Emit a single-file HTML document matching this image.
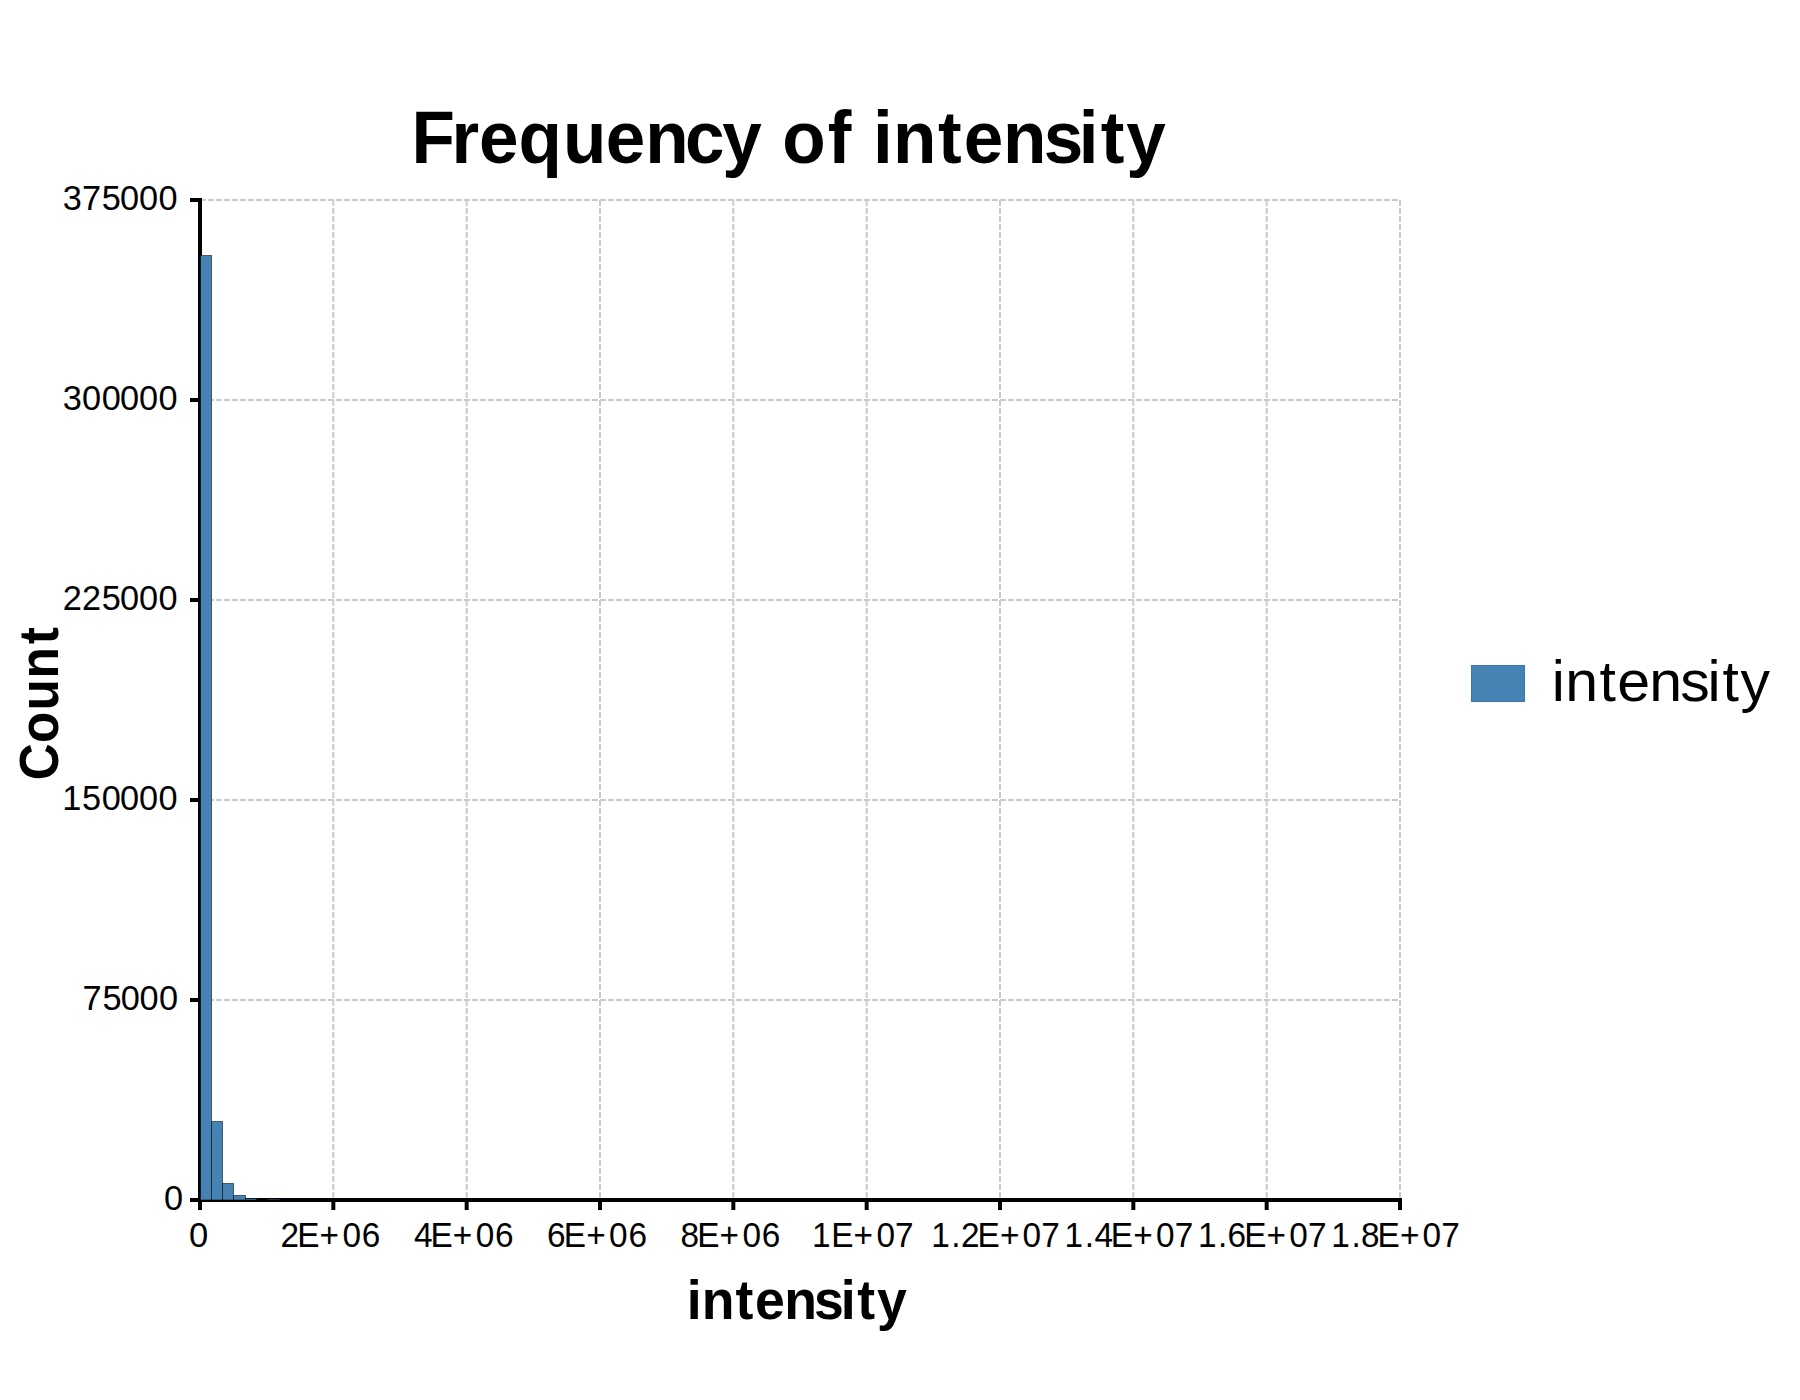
<!DOCTYPE html>
<html><head><meta charset="utf-8"><title>Frequency of intensity</title><style>html,body{margin:0;padding:0;background:#fff;overflow:hidden;}svg{display:block;}text{font-family:"Liberation Sans",Arial,sans-serif;fill:#000;}</style></head><body>
<svg width="1800" height="1400" viewBox="0 0 1800 1400">
<rect width="1800" height="1400" fill="#fff"/>
<g stroke="#cbcbcb" stroke-width="2" stroke-dasharray="6 2" fill="none"><line x1="200" y1="200" x2="1400" y2="200"/><line x1="200" y1="400" x2="1400" y2="400"/><line x1="200" y1="600" x2="1400" y2="600"/><line x1="200" y1="800" x2="1400" y2="800"/><line x1="200" y1="1000" x2="1400" y2="1000"/><line x1="333.33" y1="200" x2="333.33" y2="1200"/><line x1="466.67" y1="200" x2="466.67" y2="1200"/><line x1="600.0" y1="200" x2="600.0" y2="1200"/><line x1="733.33" y1="200" x2="733.33" y2="1200"/><line x1="866.67" y1="200" x2="866.67" y2="1200"/><line x1="1000.0" y1="200" x2="1000.0" y2="1200"/><line x1="1133.33" y1="200" x2="1133.33" y2="1200"/><line x1="1266.67" y1="200" x2="1266.67" y2="1200"/><line x1="1400.0" y1="200" x2="1400.0" y2="1200"/></g>
<line x1="198" y1="1200" x2="1402" y2="1200" stroke="#000" stroke-width="4"/>
<line x1="200" y1="198" x2="200" y2="1202" stroke="#000" stroke-width="4"/>
<g fill="#4682b4" stroke="#000" stroke-opacity="0.55" stroke-width="1"><rect x="200.5" y="255.5" width="11.0" height="944.5"/><rect x="211.5" y="1121.5" width="11.0" height="78.5"/><rect x="222.5" y="1183.5" width="11.0" height="16.5"/><rect x="233.5" y="1195.5" width="12.0" height="4.5"/><rect x="245.5" y="1198.5" width="11.0" height="1.5"/></g>
<rect x="267.5" y="1199" width="12" height="1" fill="#183652"/>
<g stroke="#000" stroke-width="4" fill="none">
<line x1="190" y1="200" x2="200" y2="200"/>
<line x1="190" y1="400" x2="200" y2="400"/>
<line x1="190" y1="600" x2="200" y2="600"/>
<line x1="190" y1="800" x2="200" y2="800"/>
<line x1="190" y1="1000" x2="200" y2="1000"/>
<line x1="190" y1="1200" x2="200" y2="1200"/>
<line x1="200.0" y1="1200" x2="200.0" y2="1210"/>
<line x1="333.33" y1="1200" x2="333.33" y2="1210"/>
<line x1="466.67" y1="1200" x2="466.67" y2="1210"/>
<line x1="600.0" y1="1200" x2="600.0" y2="1210"/>
<line x1="733.33" y1="1200" x2="733.33" y2="1210"/>
<line x1="866.67" y1="1200" x2="866.67" y2="1210"/>
<line x1="1000.0" y1="1200" x2="1000.0" y2="1210"/>
<line x1="1133.33" y1="1200" x2="1133.33" y2="1210"/>
<line x1="1266.67" y1="1200" x2="1266.67" y2="1210"/>
<line x1="1400.0" y1="1200" x2="1400.0" y2="1210"/>
</g>
<text transform="translate(0,209.65) scale(0.9750,1)" x="64.45 83.99 104.45 123.03 142.46 162.46" y="0" font-size="35.21">375000</text>
<text transform="translate(0,409.65) scale(0.9750,1)" x="64.45 84.00 104.36 123.03 142.46 162.46" y="0" font-size="35.21">300000</text>
<text transform="translate(0,609.65) scale(0.9750,1)" x="64.30 83.99 104.45 123.03 142.46 162.46" y="0" font-size="35.21">225000</text>
<text transform="translate(0,809.65) scale(0.9750,1)" x="63.83 84.10 104.36 123.03 142.46 162.46" y="0" font-size="35.21">150000</text>
<text transform="translate(0,1009.65) scale(0.9750,1)" x="84.71 105.17 123.75 143.18 163.18" y="0" font-size="35.21">75000</text>
<text transform="translate(0,1209.65) scale(0.9750,1)" x="168.26" y="0" font-size="35.21">0</text>
<text transform="translate(0,1246.65) scale(0.9750,1)" x="193.82" y="0" font-size="35.49">0</text>
<text transform="translate(0,1246.65) scale(0.9400,1)" x="298.40 316.16 339.89 364.26 384.85" y="0" font-size="35.49">2E+06</text>
<text transform="translate(0,1246.65) scale(0.9400,1)" x="440.42 458.00 481.74 506.11 526.70" y="0" font-size="35.49">4E+06</text>
<text transform="translate(0,1246.65) scale(0.9400,1)" x="582.05 599.85 623.58 647.95 668.54" y="0" font-size="35.49">6E+06</text>
<text transform="translate(0,1246.65) scale(0.9400,1)" x="724.06 741.69 765.43 789.79 810.38" y="0" font-size="35.49">8E+06</text>
<text transform="translate(0,1246.65) scale(0.9400,1)" x="863.82 884.18 907.91 932.49 952.26" y="0" font-size="35.49">1E+07</text>
<text transform="translate(0,1246.65) scale(0.9400,1)" x="990.71 1012.11 1022.24 1039.90 1063.74 1087.90 1107.78" y="0" font-size="35.49">1.2E+07</text>
<text transform="translate(0,1246.65) scale(0.9400,1)" x="1132.56 1153.95 1164.27 1181.75 1205.58 1229.74 1249.62" y="0" font-size="35.49">1.4E+07</text>
<text transform="translate(0,1246.65) scale(0.9400,1)" x="1274.40 1295.79 1305.90 1323.59 1347.43 1371.58 1391.46" y="0" font-size="35.49">1.6E+07</text>
<text transform="translate(0,1246.65) scale(0.9400,1)" x="1416.25 1437.64 1447.91 1465.43 1489.27 1513.43 1533.31" y="0" font-size="35.49">1.8E+07</text>
<text transform="translate(0,162.88) scale(0.9616,1)" x="427.81 469.65 498.11 539.19 585.47 630.03 671.14 712.40 751.23 791.87 813.40 860.81 885.56 907.99 928.78 975.47 1002.33 1043.18 1085.31 1121.90 1144.72 1171.11" y="0" font-size="73.88" font-weight="bold">Frequency of intensity</text>
<text transform="translate(0,1318.63) scale(0.9589,1)" x="716.10 731.93 767.03 787.34 817.75 848.95 876.85 893.89 914.66" y="0" font-size="55.93" font-weight="bold">intensity</text>
<text transform="translate(0,701.49) scale(1.0171,1)" x="1525.61 1539.05 1572.56 1590.11 1621.64 1652.04 1678.89 1693.55 1711.22" y="0" font-size="58.04">intensity</text>
<text transform="translate(57.78,0) rotate(-90) scale(0.9318,1)" x="-837.28 -797.43 -762.54 -728.04 -691.42" y="0" font-size="55.06" font-weight="bold">Count</text>
<rect x="1471.5" y="665.5" width="53" height="36" fill="#4682b4" stroke="#3877ab" stroke-width="1"/>
</svg></body></html>
